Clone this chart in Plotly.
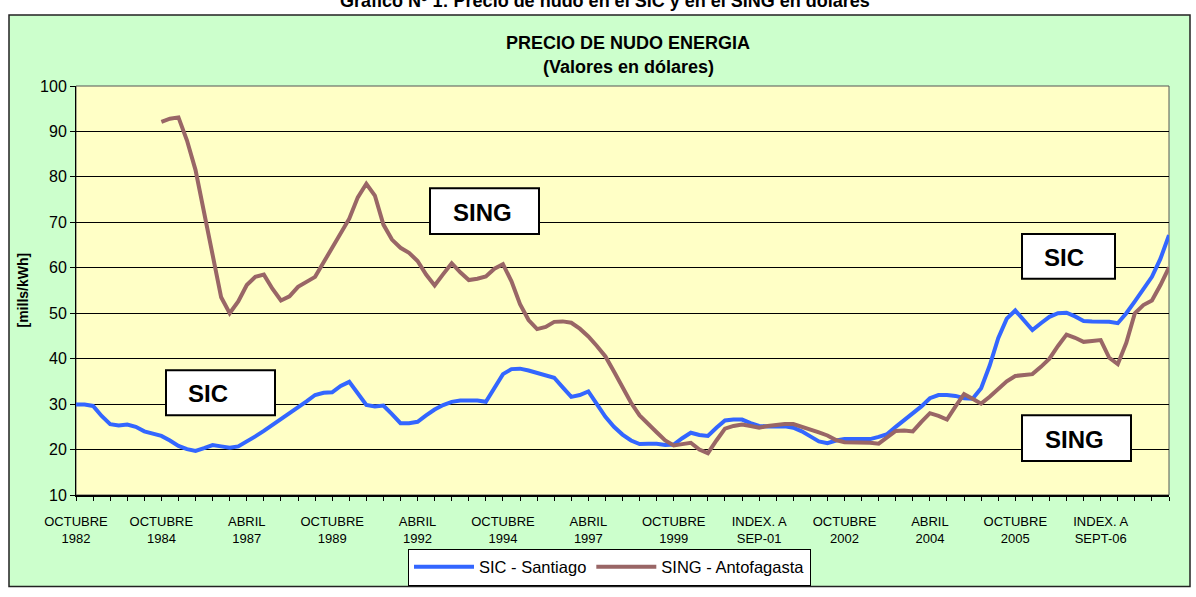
import plotly.graph_objects as go

# ---------------- data (category index, half-tick resolution) ----------------
sic_santiago = [
    29.9, 29.9, 29.6, 27.4, 25.6, 25.3, 25.5, 25.0, 24.0, 23.6,
    23.0, 22.0, 20.8, 20.1, 19.7, 20.3, 21.0, 20.7, 20.4, 20.7,
    21.7, 22.9, 24.1, 25.4, 26.6, 27.8, 29.2, 30.6, 32.0, 32.5,
    32.6, 34.0, 34.9, 32.5, 29.8, 29.5, 29.7, 27.8, 25.8, 25.8,
    26.1, 27.5, 28.8, 29.8, 30.5, 30.8, 30.8, 30.8, 30.5, 33.6,
    36.6, 37.7, 37.8, 37.4, 36.8, 36.3, 35.8, 33.7, 31.6, 32.0,
    32.8, 30.0, 27.2, 25.0, 23.3, 22.0, 21.2, 21.3, 21.3, 21.0,
    21.1, 22.5, 23.7, 23.2, 23.0, 24.8, 26.4, 26.6, 26.6, 25.8,
    25.2, 25.1, 25.1, 25.1, 24.8, 24.0, 22.9, 21.8, 21.4, 22.0,
    22.3, 22.3, 22.3, 22.3, 22.8, 23.4, 25.0, 26.5, 27.8, 29.5,
    31.3, 32.0, 32.0, 31.8, 31.3, 31.2, 33.5, 38.5, 44.5, 48.8,
    50.6, 48.5, 46.3, 47.8, 49.2, 50.0, 50.1, 49.3, 48.3, 48.2,
    48.2, 48.1, 47.8, 50.0, 52.6, 55.4, 58.0, 62.0, 67.2,
]

sing_antofagasta = [None] * 10 + [
    92.1, 92.8, 93.1, 88.0, 81.5, 72.0, 62.5, 53.5, 50.0, 52.6,
    56.2, 58.0, 58.5, 55.4, 52.8, 53.7, 55.8, 56.8, 58.0, 61.2,
    64.3, 67.5, 70.8, 75.5, 78.5, 75.9, 69.5, 66.2, 64.4, 63.3,
    61.5, 58.5, 56.1, 58.6, 61.0, 59.0, 57.3, 57.6, 58.1, 59.8,
    60.8, 57.0, 52.0, 48.5, 46.5, 47.0, 48.1, 48.2, 47.9, 46.6,
    44.9, 42.8, 40.5, 37.2, 33.8, 30.3, 27.5, 25.5, 23.8, 22.0,
    20.9, 21.2, 21.5, 20.0, 19.2, 22.0, 24.6, 25.2, 25.5, 25.2,
    24.8, 25.2, 25.5, 25.6, 25.6, 25.0, 24.6, 23.8, 23.1, 22.1,
    21.6, 21.6, 21.6, 21.5, 21.3, 22.6, 24.1, 24.2, 24.0, 26.1,
    28.0, 27.4, 26.6, 29.5, 32.2, 31.2, 30.1, 31.6, 33.2, 35.0,
    36.2, 36.5, 36.6, 38.2, 40.0, 42.8, 45.3, 44.6, 43.7, 43.9,
    44.1, 40.2, 38.8, 43.5, 50.0, 51.8, 52.8, 56.2, 60.1,
]

tick_labels = [
    "OCTUBRE<br>1982", "OCTUBRE<br>1984", "ABRIL<br>1987", "OCTUBRE<br>1989",
    "ABRIL<br>1992", "OCTUBRE<br>1994", "ABRIL<br>1997", "OCTUBRE<br>1999",
    "INDEX. A<br>SEP-01", "OCTUBRE<br>2002", "ABRIL<br>2004", "OCTUBRE<br>2005",
    "INDEX. A<br>SEPT-06",
]

categories = list(range(len(sic_santiago)))

# ---------------- layout helpers ----------------
W, H = 1196, 597
ML, MR, MT, MB = 76, 27, 86, 91
PW = W - ML - MR
PH = H - MT - MB
FONT = "Liberation Sans, Arial, sans-serif"


def px(x):
    return (x - ML) / PW


def py(y):
    return (H - MB - y) / PH


tickvals = list(range(0, len(categories), 2))
ticktext = []
for v in tickvals:
    if v % 10 == 0 and v // 10 < len(tick_labels):
        ticktext.append(tick_labels[v // 10])
    else:
        ticktext.append("")

fig = go.Figure()
fig.add_trace(go.Scatter(
    x=categories, y=sic_santiago, mode="lines", name="SIC - Santiago",
    line=dict(color="#3366FF", width=4), connectgaps=False,
))
fig.add_trace(go.Scatter(
    x=categories, y=sing_antofagasta, mode="lines", name="SING - Antofagasta",
    line=dict(color="#996666", width=4), connectgaps=False,
))

shapes = [
    # chart area (green) with border
    dict(type="rect", xref="paper", yref="paper", layer="below",
         x0=px(9), x1=px(1190), y0=py(600), y1=py(13),
         fillcolor="#CCFFCC", line=dict(color="#222222", width=1.5)),
    # plot area (yellow)
    dict(type="rect", xref="paper", yref="paper", layer="below",
         x0=0, x1=1, y0=0, y1=1,
         fillcolor="#FFFFC6", line=dict(color="#555555", width=1)),
]

boxes = [
    # (x0, x1, y0, y1, text, text_x, text_y)
    (430, 539, 191, 238, "SING", 451, 216),
    (166, 275, 378, 424, "SIC", 186, 402),
    (1022, 1115, 238, 284, "SIC", 1042, 262),
    (1022, 1131, 424, 471, "SING", 1043, 449),
]
annotations = []
for x0, x1, y0, y1, txt, tx, ty in boxes:
    shapes.append(dict(type="rect", xref="paper", yref="paper", layer="above",
                       x0=px(x0), x1=px(x1), y0=py(y1), y1=py(y0),
                       fillcolor="white", line=dict(color="black", width=2)))
    annotations.append(dict(xref="paper", yref="paper", x=px(tx), y=py(ty),
                            xanchor="left", yanchor="middle", showarrow=False,
                            text="<b>%s</b>" % txt,
                            font=dict(family=FONT, size=24, color="black")))

annotations += [
    dict(xref="paper", yref="paper", x=px(628), y=py(42), showarrow=False,
         xanchor="center", yanchor="middle",
         text="<b>PRECIO DE NUDO ENERGIA</b>",
         font=dict(family=FONT, size=18, color="black")),
    dict(xref="paper", yref="paper", x=px(628), y=py(67), showarrow=False,
         xanchor="center", yanchor="middle",
         text="<b>(Valores en dólares)</b>",
         font=dict(family=FONT, size=18, color="black")),
    dict(xref="paper", yref="paper", x=px(22), y=0.5, showarrow=False,
         xanchor="center", yanchor="middle", textangle=-90,
         text="<b>[mills/kWh]</b>",
         font=dict(family=FONT, size=14, color="black")),
    dict(xref="paper", yref="paper", x=px(605), y=py(-1), showarrow=False,
         xanchor="center", yanchor="middle",
         text="<b>Gráfico Nº 1: Precio de nudo en el SIC y en el SING en dólares</b>",
         font=dict(family=FONT, size=18, color="black")),
]

fig.update_layout(
    width=W, height=H,
    margin=dict(l=ML, r=MR, t=MT, b=MB, pad=0),
    paper_bgcolor="white",
    plot_bgcolor="rgba(0,0,0,0)",
    font=dict(family=FONT, color="black"),
    shapes=shapes,
    annotations=annotations,
    showlegend=True,
    legend=dict(
        orientation="h", x=px(408), y=py(561), xanchor="left", yanchor="top",
        bgcolor="white", bordercolor="black", borderwidth=1,
        font=dict(family=FONT, size=16.5, color="black"),
        itemwidth=60, tracegroupgap=0,
    ),
    xaxis=dict(
        range=[0, len(categories) - 1], tickmode="array",
        tickvals=tickvals, ticktext=ticktext,
        ticks="outside", ticklen=4, tickwidth=1, tickcolor="black",
        ticklabelstandoff=9,
        showline=True, linecolor="black", linewidth=2,
        showgrid=False, zeroline=False,
        tickfont=dict(family=FONT, size=13, color="black"),
    ),
    yaxis=dict(
        range=[10, 100], dtick=10, tick0=10,
        ticks="outside", ticklen=5, tickwidth=1, tickcolor="black",
        showline=True, linecolor="black", linewidth=1,
        showgrid=True, gridcolor="black", gridwidth=1, zeroline=False,
        tickfont=dict(family=FONT, size=16, color="black"),
    ),
)

fig.write_html(
    "out.html",
    config={"displayModeBar": False, "staticPlot": True},
    post_script="document.body.style.margin='0px';document.body.style.overflow='hidden';",
)
